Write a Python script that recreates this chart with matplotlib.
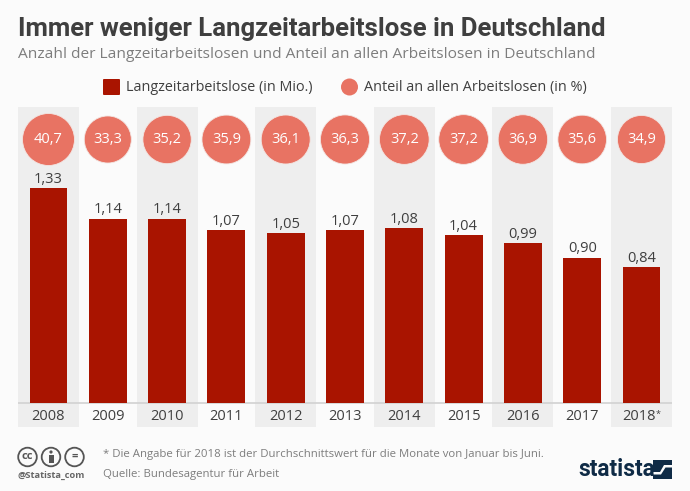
import numpy as np
import matplotlib
matplotlib.use('Agg')
import matplotlib.pyplot as plt
from matplotlib.patches import Rectangle, Circle, FancyBboxPatch, Polygon

# Daten
years = ['2008', '2009', '2010', '2011', '2012', '2013', '2014', '2015', '2016', '2017', '2018*']
langzeit = [1.33, 1.14, 1.14, 1.07, 1.05, 1.07, 1.08, 1.04, 0.99, 0.90, 0.84]
anteil = [40.7, 33.3, 35.2, 35.9, 36.1, 36.3, 37.2, 37.2, 36.9, 35.6, 34.9]

title = 'Immer weniger Langzeitarbeitslose in Deutschland'
subtitle = 'Anzahl der Langzeitarbeitslosen und Anteil an allen Arbeitslosen in Deutschland'
note = '* Die Angabe für 2018 ist der Durchschnittswert für die Monate von Januar bis Juni.'
source = 'Quelle: Bundesagentur für Arbeit'

RED = '#a91400'
CORAL = '#e87363'
DARK = '#3f3f3f'
GREY = '#7d7d7d'
BG = '#fbfbfb'
BAND = '#eeeeee'
NAVY = '#0f2b46'

W, H = 690, 491
plt.rcParams['font.family'] = ['Open Sans', 'DejaVu Sans']

fig = plt.figure(figsize=(W / 100, H / 100), dpi=100, facecolor=BG)

# Diagramm: y=0 liegt bei Pixel 403, 1 Mio. = 161.6 Pixel
left, right, top, bottom = 18, 672, 107, 427
ax = fig.add_axes([left / W, 1 - bottom / H, (right - left) / W, (bottom - top) / H])
ax.set_facecolor('none')
x = np.arange(len(years))
ax.set_xlim(-0.514, 10.514)
ax.set_ylim((403 - bottom) / 161.6, (403 - top) / 161.6)
for s in ax.spines.values():
    s.set_visible(False)
ax.set_yticks([])
ax.set_xticks(x)
ax.set_xticklabels([])
ax.tick_params(length=0)

# graue Streifen
for i in x[::2]:
    ax.axvspan(i - 0.514, i + 0.514, color=BAND, lw=0, zorder=0)
ax.axhline(0, color='#d2d2d2', lw=1.2, zorder=1)

ax.bar(x, langzeit, width=0.64, color=RED, zorder=2)
for i, v in enumerate(langzeit):
    ax.text(i, v + 0.008, f'{v:.2f}'.replace('.', ','), ha='center', va='bottom',
            fontsize=10.5, color=DARK, zorder=3)

# Kreise: Fläche proportional zum Anteil
circle_y = (403 - 139.5) / 161.6
sizes = [(52 * 0.72) ** 2 * a / 40.7 for a in anteil]
ax.scatter(x, [circle_y] * len(x), s=sizes, color=CORAL, edgecolor='#f3e6e3', linewidth=0.6, zorder=3)
for i, a in enumerate(anteil):
    ax.text(i, circle_y, f'{a:.1f}'.replace('.', ','), ha='center', va='center',
            fontsize=10.5, color='white', zorder=4)

for i, y in enumerate(years):
    if y.endswith('*'):
        ax.text(i - 0.04, -0.0855, y.replace('*', ''), ha='center', va='center', fontsize=10.5, color=DARK)
        ax.text(i + 0.28, -0.07, '*', ha='center', va='center', fontsize=6.5, color=DARK)
    else:
        ax.text(i, -0.0855, y, ha='center', va='center', fontsize=10.5, color=DARK)

# Overlay in Pixelkoordinaten für Titel, Legende, Fußzeile
ov = fig.add_axes([0, 0, 1, 1])
ov.set_xlim(0, W)
ov.set_ylim(H, 0)
ov.axis('off')
ov.patch.set_alpha(0)

ov.text(18, 29, title, fontsize=18.5, fontweight='bold', color=DARK, va='center',
        family=['Roboto', 'DejaVu Sans'])
ov.text(18, 54.5, subtitle, fontsize=11.15, color=GREY, va='center')

# Legende
ov.add_patch(FancyBboxPatch((103, 79), 17, 16, boxstyle='round,pad=0,rounding_size=1', fc=RED, ec='none'))
ov.text(126, 87, 'Langzeitarbeitslose (in Mio.)', fontsize=10.4, color=DARK, va='center')
ov.add_patch(Circle((349.5, 87), 8.5, fc=CORAL, ec='none'))
ov.text(364, 87, 'Anteil an allen Arbeitslosen (in %)', fontsize=10.35, color=DARK, va='center')

# Fußzeile
ov.text(103, 455, note, fontsize=8.18, color=GREY, va='center')
ov.text(103, 474.5, source, fontsize=8.18, color=GREY, va='center')

# CC-Symbole
for cx, label in zip([27.5, 51, 74.5], ['cc', '', '=']):
    ov.add_patch(Circle((cx, 457), 9.3, fc='none', ec='#555555', lw=1.3))
    if label:
        ov.text(cx, 456.5, label, fontsize=8, fontweight='bold', color='#555555', ha='center', va='center')
ov.add_patch(Circle((51, 452), 1.6, fc='#555555', ec='none'))
ov.add_patch(Rectangle((48.5, 454.5), 5, 8, fc='#555555', ec='none'))
ov.text(18, 475.5, '@Statista_com', fontsize=6.7, fontweight='bold', color='#666666', va='center')

# Logo
ov.text(578, 470, 'statista', fontsize=16.3, fontweight='bold', color=NAVY, va='center',
        family=['Liberation Sans Narrow', 'Roboto', 'DejaVu Sans'])
ov.add_patch(Rectangle((653, 460), 19, 19, fc=NAVY, ec='none'))
ov.add_patch(Polygon([[653, 472], [660, 472], [664, 465], [672, 465], [672, 467.5], [665.5, 467.5],
                      [661, 474.5], [653, 474.5]], fc=BG, ec='none'))

fig.savefig('out.png', dpi=100, facecolor=BG)
